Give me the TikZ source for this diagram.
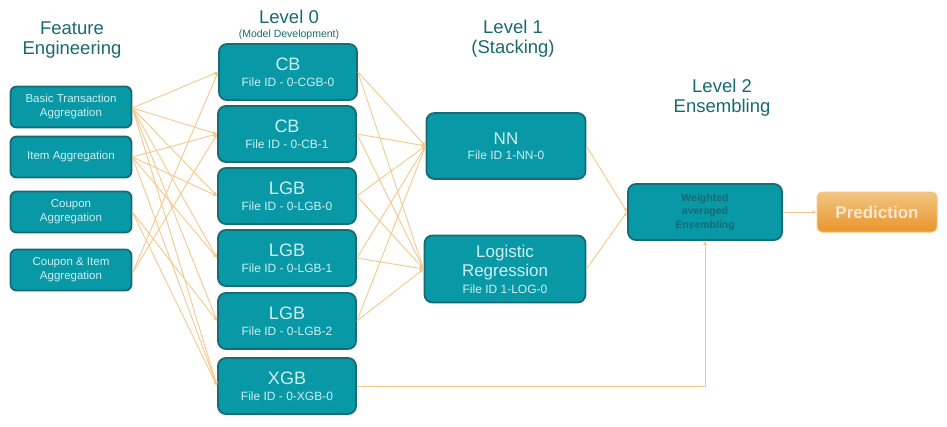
\documentclass[tikz,border=0pt]{standalone}
\usepackage{fontspec}
\setmainfont{Liberation Sans}
\usetikzlibrary{arrows.meta}
\definecolor{tealfill}{RGB}{8,152,166}
\definecolor{tealedge}{RGB}{22,108,116}
\definecolor{boxtext}{RGB}{205,240,242}
\definecolor{titletext}{RGB}{24,106,112}
\definecolor{linkcol}{RGB}{243,200,140}
\definecolor{predtop}{RGB}{242,198,130}
\definecolor{predbot}{RGB}{233,148,42}
\definecolor{predtext}{RGB}{248,232,212}
\tikzset{
  box/.style={draw=tealedge, line width=1.8pt, fill=tealfill, rounded corners=8pt,
    text=boxtext, align=center, inner sep=0pt},
  feat/.style={box, minimum width=121pt, minimum height=41pt, font=\fontsize{11.5}{14}\selectfont, rounded corners=6pt},
  lvl/.style={box, minimum width=138pt, minimum height=56pt, font=\fontsize{18}{18}\selectfont},
  title/.style={text=titletext, align=center, font=\fontsize{18.5}{20}\selectfont},
  link/.style={draw=linkcol, line width=0.9pt, -{Latex[length=4pt,width=4pt]}},
}
\newcommand{\fid}[1]{{\fontsize{12}{12}\selectfont #1}}
\begin{document}
\begin{tikzpicture}[x=1pt,y=-1pt]
\useasboundingbox (0,0) rectangle (947,426);
% titles
\node[title] (t0) at (72,40) {Feature\\Engineering};
\node[title] (t1) at (289,17) {Level 0};
\node[text=titletext, font=\fontsize{10.5}{12}\selectfont] (t1b) at (289,35) {(Model Development)};
\node[title] (t2) at (513,39) {Level 1\\(Stacking)};
\node[title] (t3) at (722,98) {Level 2\\Ensembling};
% feature boxes
\node[feat] (f1) at (71,107) {Basic Transaction\\Aggregation};
\node[feat] (f2) at (71,157) {Item Aggregation};
\node[feat] (f3) at (71,212) {Coupon\\Aggregation};
\node[feat] (f4) at (71,270) {Coupon \& Item\\Aggregation};
% level 0
\node[lvl] (m0) at (288,72) {CB\\[-2pt]\fid{File ID - 0-CGB-0}};
\node[lvl] (m1) at (287,134) {CB\\[-2pt]\fid{File ID - 0-CB-1}};
\node[lvl] (m2) at (287,196) {LGB\\[-2pt]\fid{File ID - 0-LGB-0}};
\node[lvl] (m3) at (287,258) {LGB\\[-2pt]\fid{File ID - 0-LGB-1}};
\node[lvl] (m4) at (287,321) {LGB\\[-2pt]\fid{File ID - 0-LGB-2}};
\node[lvl] (m5) at (287,386) {XGB\\[-2pt]\fid{File ID - 0-XGB-0}};
% level 1
\node[box, minimum width=159pt, minimum height=66pt, font=\fontsize{17}{17}\selectfont] (nn) at (506,146)
  {NN\\[-2pt]\fid{File ID 1-NN-0}};
\node[box, minimum width=161pt, minimum height=67pt, font=\fontsize{17}{19.5}\selectfont] (lr) at (505,269)
  {Logistic\\Regression\\[-3pt]\fid{File ID 1-LOG-0}};
% level 2
\node[box, minimum width=154pt, minimum height=56pt, text=titletext,
  font=\bfseries\fontsize{10.5}{13.5}\selectfont] (ens) at (705,212) {Weighted\\averaged\\Ensembling};
\node[rounded corners=5pt, top color=predtop, bottom color=predbot, draw=predtop,
  line width=1pt, minimum width=120pt, minimum height=40pt, text=predtext,
  font=\bfseries\fontsize{17}{18}\selectfont] (pred) at (877,212) {Prediction};
% feature -> level 0
\coordinate (f1r) at ([yshift=-1pt]f1.east);
\coordinate (f2r) at (f2.east);
\coordinate (f3r) at (f3.east);
\coordinate (f4r) at ([yshift=-3pt]f4.east);
\foreach \m in {m0,m1,m2,m3,m4,m5}{\draw[link] (f1r) -- (\m.west);}
\foreach \m in {m1,m2,m3,m5}{\draw[link] (f2r) -- (\m.west);}
\foreach \m in {m4,m5}{\draw[link] (f3r) -- (\m.west);}
\foreach \m in {m0,m1}{\draw[link] (f4r) -- (\m.west);}
% level 0 -> level 1
\foreach \m in {m0,m1,m2,m3,m4}{
  \draw[link] (\m.east) -- (nn.west);
  \draw[link] (\m.east) -- (lr.west);
}
% level 1 -> level 2
\draw[link] (nn.east) -- (ens.west);
\draw[link] (lr.east) -- (ens.west);
\coordinate (bend) at (ens.south |- m5.east);
\draw[link] (m5.east) -- (bend) -- (ens.south);
\draw[link] (ens.east) -- (pred.west);
\end{tikzpicture}
\end{document}
